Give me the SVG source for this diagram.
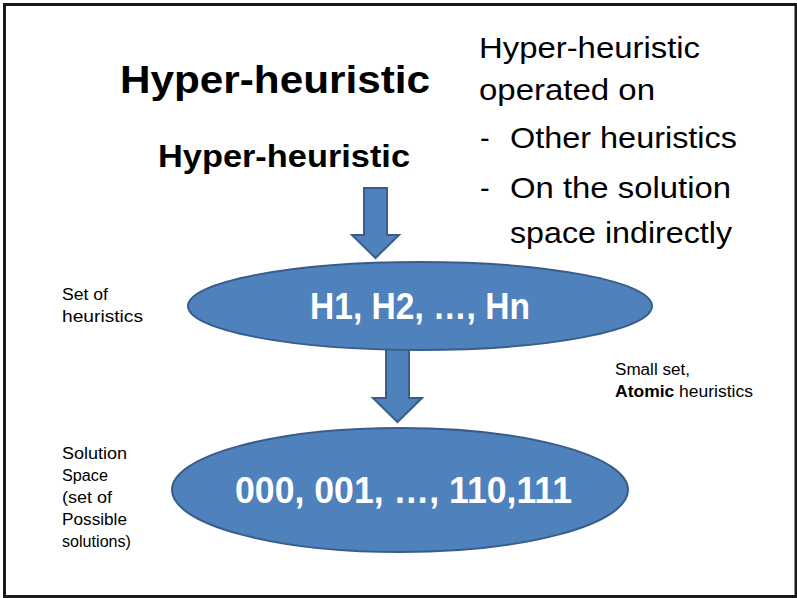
<svg xmlns="http://www.w3.org/2000/svg" width="797" height="598" viewBox="0 0 797 598">
  <style>
    .t { font-family: "Liberation Sans", Arial, sans-serif; fill: #000; }
    .b { font-weight: bold; }
    .w { fill: #fff; font-weight: bold; }
    .s { font-size: 16px; }
    .shape { fill: #4F81BD; stroke: #385D8A; stroke-width: 2; }
  </style>
  <rect x="0" y="0" width="797" height="598" fill="#fff"/>
  <!-- slide frame -->
  <rect x="4.5" y="4.5" width="791.5" height="592" fill="none" stroke="#1a1a1a" stroke-width="3"/>

  <!-- headings -->
  <text class="t b" x="120" y="93" font-size="38" textLength="310" lengthAdjust="spacingAndGlyphs">Hyper-heuristic</text>

  <!-- right-hand notes -->
  <g id="notes">
    <text class="t" x="479" y="58" font-size="29" textLength="221" lengthAdjust="spacingAndGlyphs">Hyper-heuristic</text>
    <text class="t" x="479" y="100" font-size="29" textLength="176" lengthAdjust="spacingAndGlyphs">operated on</text>
    <text class="t" x="480" y="148" font-size="29">-</text>
    <text class="t" x="510" y="148" font-size="29" textLength="227" lengthAdjust="spacingAndGlyphs">Other heuristics</text>
    <text class="t" x="480" y="198" font-size="29">-</text>
    <text class="t" x="510" y="198" font-size="29" textLength="221" lengthAdjust="spacingAndGlyphs">On the solution</text>
    <text class="t" x="510" y="243" font-size="29" textLength="222" lengthAdjust="spacingAndGlyphs">space indirectly</text>
  </g>

  <!-- connectors -->
  <g id="connectors">
    <path class="shape" d="M364,188 H387 V235 H399 L375.5,258 L352,235 H364 Z"/>
    <path class="shape" d="M386,340 H409 V398 H422 L397.5,422 L373,398 H386 Z"/>
  </g>

  <!-- nodes -->
  <g id="hyper-heuristic">
    <text class="t b" x="158" y="167" font-size="31" textLength="252" lengthAdjust="spacingAndGlyphs">Hyper-heuristic</text>
  </g>

  <g id="heuristic-set">
    <ellipse class="shape" cx="420" cy="306" rx="232" ry="44"/>
    <text class="t w" x="310" y="319" font-size="36" textLength="220" lengthAdjust="spacingAndGlyphs">H1, H2, …, Hn</text>
  </g>

  <g id="solution-space">
    <ellipse class="shape" cx="400" cy="490" rx="228" ry="62"/>
    <text class="t w" x="235" y="503" font-size="36" textLength="337" lengthAdjust="spacingAndGlyphs">000, 001, …, 110,111</text>
  </g>

  <!-- side labels -->
  <g id="label-set">
    <text class="t s" x="62" y="300" textLength="46" lengthAdjust="spacingAndGlyphs">Set of</text>
    <text class="t s" x="62" y="322" textLength="81" lengthAdjust="spacingAndGlyphs">heuristics</text>
  </g>
  <g id="label-small">
    <text class="t s" x="615" y="375" textLength="75" lengthAdjust="spacingAndGlyphs">Small set,</text>
    <text class="t s" x="615" y="397" textLength="138" lengthAdjust="spacingAndGlyphs"><tspan class="b">Atomic</tspan> heuristics</text>
  </g>
  <g id="label-solution">
    <text class="t s" x="62" y="459" textLength="65" lengthAdjust="spacingAndGlyphs">Solution</text>
    <text class="t s" x="62" y="481" textLength="46" lengthAdjust="spacingAndGlyphs">Space</text>
    <text class="t s" x="62" y="503" textLength="50" lengthAdjust="spacingAndGlyphs">(set of</text>
    <text class="t s" x="62" y="525" textLength="65" lengthAdjust="spacingAndGlyphs">Possible</text>
    <text class="t s" x="62" y="547" textLength="69" lengthAdjust="spacingAndGlyphs">solutions)</text>
  </g>
</svg>
